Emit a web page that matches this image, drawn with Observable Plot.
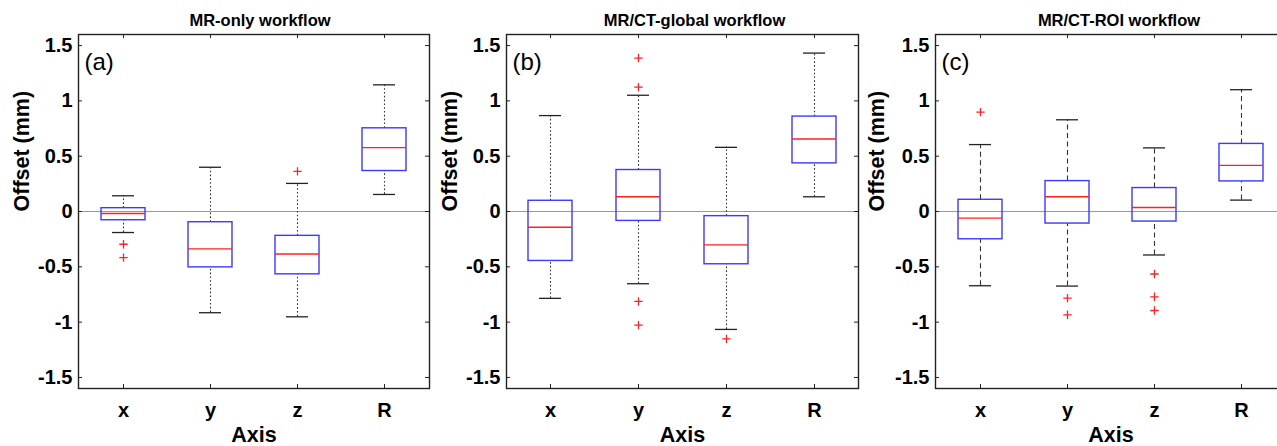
<!DOCTYPE html>
<html>
<head>
<meta charset="utf-8">
<script src="https://cdn.jsdelivr.net/npm/d3@7"></script>
<script src="https://cdn.jsdelivr.net/npm/@observablehq/plot@0.6"></script>
<style>
  html, body { margin: 0; padding: 0; background: #fff; overflow: hidden; }
  #wrap { position: relative; width: 1277px; height: 446px; overflow: hidden; }
  .panel { position: absolute; top: 0; }
</style>
</head>
<body>
<div id="wrap"></div>
<script>
// ---- data ----
const categories = ["x", "y", "z", "R"];
const panelTitles = ["MR-only workflow", "MR/CT-global workflow", "MR/CT-ROI workflow"];
const panelLabels = ["(a)", "(b)", "(c)"];
const yTicks = [-1.5, -1, -0.5, 0, 0.5, 1, 1.5];
const yLabel = "Offset (mm)";
const xLabel = "Axis";

// per panel, per category (x, y, z, R)
const whiskerHigh = [
  [0.142, 0.40, 0.254, 1.145],
  [0.867, 1.051, 0.58, 1.432],
  [0.605, 0.829, 0.575, 1.101]
];
const q3 = [
  [0.03, -0.097, -0.22, 0.752],
  [0.097, 0.375, -0.042, 0.858],
  [0.106, 0.275, 0.212, 0.611]
];
const medians = [
  [-0.018, -0.338, -0.384, 0.577],
  [-0.142, 0.133, -0.302, 0.656],
  [-0.06, 0.133, 0.036, 0.417]
];
const q1 = [
  [-0.079, -0.505, -0.568, 0.366],
  [-0.447, -0.085, -0.477, 0.435],
  [-0.251, -0.109, -0.091, 0.272]
];
const whiskerLow = [
  [-0.19, -0.915, -0.952, 0.154],
  [-0.785, -0.653, -1.066, 0.133],
  [-0.671, -0.674, -0.393, 0.103]
];
const outlierValues = [
  [[-0.296, -0.417], [], [0.363], []],
  [[], [1.387, 1.124, -0.813, -1.027], [-1.151], []],
  [[0.898], [-0.783, -0.934], [-0.565, -0.771, -0.895], []]
];

// ---- layout (styles only) ----
const panels = [
  {left: 0,   width: 432, marginLeft: 78, marginRight: 3, yLabelOffset: 56, titleDx: 6,  dash: "1.6,2.2"},
  {left: 430, width: 431, marginLeft: 76, marginRight: 3, yLabelOffset: 56, titleDx: 12, dash: "1.6,2.2"},
  {left: 860, width: 430, marginLeft: 75, marginRight: 4, yLabelOffset: 58, titleDx: 8,  dash: "5,3.5"}
];
const H = 446, MT = 34, MB = 58;
const FONT = "'Liberation Sans', Arial, Helvetica, sans-serif";

const plusSymbol = {
  draw(context, size) {
    const r = Math.sqrt(size / Math.PI);
    context.moveTo(-r, 0); context.lineTo(r, 0);
    context.moveTo(0, -r); context.lineTo(0, r);
  }
};

const wrap = document.getElementById("wrap");

panels.forEach((p, pi) => {
  const stats = categories.map((c, i) => ({
    cat: c, lo: whiskerLow[pi][i], q1: q1[pi][i], med: medians[pi][i], q3: q3[pi][i], hi: whiskerHigh[pi][i]
  }));
  const outs = [];
  categories.forEach((c, i) => outlierValues[pi][i].forEach(v => outs.push({cat: c, v})));
  const fw = p.width - p.marginLeft - p.marginRight;
  const fh = H - MT - MB;

  const chart = Plot.plot({
    width: p.width,
    height: H,
    marginLeft: p.marginLeft,
    marginRight: p.marginRight,
    marginTop: MT,
    marginBottom: MB,
    style: {fontFamily: FONT, fontSize: "20px", fontWeight: "bold", color: "#000", background: "transparent"},
    x: {type: "band", domain: categories, paddingInner: 0.5, paddingOuter: 0.25, axis: null},
    y: {domain: [-1.6, 1.6], axis: null},
    marks: [
      Plot.ruleY([0], {stroke: "#999", strokeWidth: 1}),
      // inner ticks
      Plot.tickY(yTicks, {y: d => d, insetRight: fw - 4, stroke: "#222"}),
      Plot.tickY(yTicks, {y: d => d, insetLeft: fw - 4, stroke: "#222"}),
      Plot.tickX(categories, {x: d => d, insetBottom: fh - 4, stroke: "#222"}),
      Plot.tickX(categories, {x: d => d, insetTop: fh - 4, stroke: "#222"}),
      // whiskers
      Plot.ruleX(stats, {x: "cat", y1: "lo", y2: "q1", stroke: "#333", strokeDasharray: p.dash, strokeWidth: 1.1}),
      Plot.ruleX(stats, {x: "cat", y1: "q3", y2: "hi", stroke: "#333", strokeDasharray: p.dash, strokeWidth: 1.1}),
      Plot.tickY(stats, {x: "cat", y: "lo", insetLeft: 11, insetRight: 11, stroke: "#222", strokeWidth: 1.3}),
      Plot.tickY(stats, {x: "cat", y: "hi", insetLeft: 11, insetRight: 11, stroke: "#222", strokeWidth: 1.3}),
      // boxes
      Plot.barY(stats, {x: "cat", y1: "q1", y2: "q3", fill: "none", stroke: "#3a3aff", strokeWidth: 1.4}),
      Plot.tickY(stats, {x: "cat", y: "med", stroke: "#ff2020", strokeWidth: 1.4}),
      // outliers
      Plot.dot(outs, {x: "cat", y: "v", symbol: plusSymbol, r: 4.2, stroke: "#ff2020", fill: "none", strokeWidth: 1.3}),
      // frame
      Plot.frame({stroke: "#222", strokeWidth: 1.4}),
      // axes
      Plot.axisY(yTicks, {anchor: "left", tickSize: 0, tickPadding: 6, tickFormat: d => String(d), fontSize: 20, fontWeight: "bold", label: null}),
      Plot.axisX(categories, {anchor: "bottom", tickSize: 0, tickPadding: 14, fontSize: 20, fontWeight: "bold", label: null}),
      // labels
      Plot.text([panelTitles[pi]], {frameAnchor: "top", dy: -14, dx: p.titleDx, fontSize: 16.5, fontWeight: "bold", lineAnchor: "middle", fill: "#000"}),
      Plot.text([panelLabels[pi]], {frameAnchor: "top-left", dx: 6, dy: 18, fontSize: 24, fontWeight: "normal", textAnchor: "start", lineAnchor: "top", fill: "#000"}),
      Plot.text([yLabel], {frameAnchor: "left", dx: -p.yLabelOffset, rotate: -90, fontSize: 21.5, fontWeight: "bold", lineAnchor: "middle", fill: "#000"}),
      Plot.text([xLabel], {frameAnchor: "bottom", dy: 47, fontSize: 21.5, fontWeight: "bold", lineAnchor: "middle", fill: "#000"})
    ]
  });
  chart.classList.add("panel");
  chart.style.left = p.left + "px";
  chart.style.overflow = "visible";
  wrap.appendChild(chart);
});
</script>
</body>
</html>
